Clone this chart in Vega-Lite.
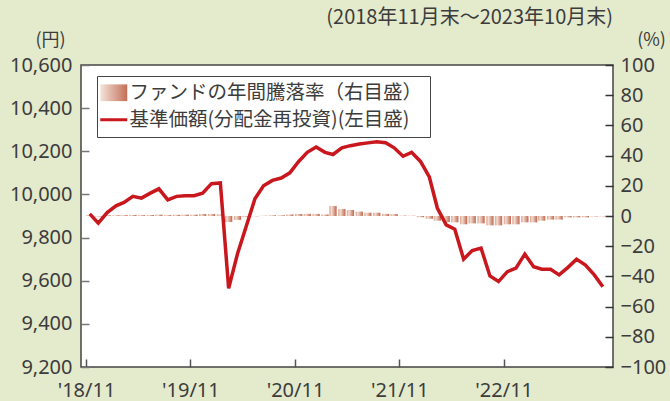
{
  "$schema": "https://vega.github.io/schema/vega-lite/v6.json",
  "width": 532,
  "height": 302,
  "autosize": "none",
  "padding": {"left": 81, "top": 65, "right": 57, "bottom": 34},
  "background": "#e4eacc",
  "title": {
    "text": "(2018年11月末～2023年10月末)",
    "anchor": "end",
    "frame": "group",
    "font": "Noto Sans CJK JP",
    "fontSize": 20,
    "fontWeight": "normal",
    "color": "#3c3c3c",
    "offset": 3
  },
  "data": {
    "values": [
      {"date": "2018/11/14", "nav": 9910, "ret": 0.6},
      {"date": "2018/12/14", "nav": 9867, "ret": -0.4},
      {"date": "2019/01/14", "nav": 9916, "ret": 0.5},
      {"date": "2019/02/14", "nav": 9947, "ret": 0.5},
      {"date": "2019/03/14", "nav": 9963, "ret": 0.6},
      {"date": "2019/04/14", "nav": 9991, "ret": 0.7},
      {"date": "2019/05/14", "nav": 9983, "ret": 0.6},
      {"date": "2019/06/14", "nav": 10006, "ret": 0.7},
      {"date": "2019/07/14", "nav": 10026, "ret": 0.9},
      {"date": "2019/08/14", "nav": 9975, "ret": 0.6},
      {"date": "2019/09/14", "nav": 9991, "ret": 0.8},
      {"date": "2019/10/14", "nav": 9994, "ret": 0.9},
      {"date": "2019/11/14", "nav": 9994, "ret": 0.9},
      {"date": "2019/12/14", "nav": 10006, "ret": 1.3},
      {"date": "2020/01/14", "nav": 10050, "ret": 1.3},
      {"date": "2020/02/14", "nav": 10053, "ret": 1.2},
      {"date": "2020/03/14", "nav": 9565, "ret": -4.0},
      {"date": "2020/04/14", "nav": 9725, "ret": -2.6},
      {"date": "2020/05/14", "nav": 9850, "ret": -0.8},
      {"date": "2020/06/14", "nav": 9980, "ret": -0.2},
      {"date": "2020/07/14", "nav": 10040, "ret": 0.2},
      {"date": "2020/08/14", "nav": 10065, "ret": 0.5},
      {"date": "2020/09/14", "nav": 10076, "ret": 0.5},
      {"date": "2020/10/14", "nav": 10100, "ret": 1.0},
      {"date": "2020/11/14", "nav": 10153, "ret": 1.3},
      {"date": "2020/12/14", "nav": 10195, "ret": 1.4},
      {"date": "2021/01/14", "nav": 10220, "ret": 1.4},
      {"date": "2021/02/14", "nav": 10195, "ret": 1.0},
      {"date": "2021/03/14", "nav": 10185, "ret": 6.6},
      {"date": "2021/04/14", "nav": 10216, "ret": 4.6},
      {"date": "2021/05/14", "nav": 10226, "ret": 4.0},
      {"date": "2021/06/14", "nav": 10234, "ret": 2.9},
      {"date": "2021/07/14", "nav": 10239, "ret": 2.2},
      {"date": "2021/08/14", "nav": 10244, "ret": 2.2},
      {"date": "2021/09/14", "nav": 10240, "ret": 1.4},
      {"date": "2021/10/14", "nav": 10216, "ret": 1.3},
      {"date": "2021/11/14", "nav": 10177, "ret": 0.3},
      {"date": "2021/12/14", "nav": 10195, "ret": 0.2},
      {"date": "2022/01/14", "nav": 10153, "ret": -0.8},
      {"date": "2022/02/14", "nav": 10081, "ret": -1.8},
      {"date": "2022/03/14", "nav": 9937, "ret": -3.1},
      {"date": "2022/04/14", "nav": 9859, "ret": -4.0},
      {"date": "2022/05/14", "nav": 9839, "ret": -4.2},
      {"date": "2022/06/14", "nav": 9700, "ret": -5.5},
      {"date": "2022/07/14", "nav": 9740, "ret": -4.9},
      {"date": "2022/08/14", "nav": 9751, "ret": -4.9},
      {"date": "2022/09/14", "nav": 9622, "ret": -6.2},
      {"date": "2022/10/14", "nav": 9596, "ret": -6.2},
      {"date": "2022/11/14", "nav": 9642, "ret": -5.5},
      {"date": "2022/12/14", "nav": 9658, "ret": -5.5},
      {"date": "2023/01/14", "nav": 9723, "ret": -4.2},
      {"date": "2023/02/14", "nav": 9665, "ret": -4.2},
      {"date": "2023/03/14", "nav": 9653, "ret": -3.1},
      {"date": "2023/04/14", "nav": 9653, "ret": -2.4},
      {"date": "2023/05/14", "nav": 9627, "ret": -2.4},
      {"date": "2023/06/14", "nav": 9662, "ret": -0.9},
      {"date": "2023/07/14", "nav": 9700, "ret": -0.9},
      {"date": "2023/08/14", "nav": 9673, "ret": -0.9},
      {"date": "2023/09/14", "nav": 9627, "ret": -0.3},
      {"date": "2023/10/14", "nav": 9572, "ret": -0.3}
    ]
  },
  "layer": [
    {
      "mark": {
        "type": "bar",
        "width": 7.3,
        "fill": {
          "gradient": "linear",
          "x1": 0, "y1": 0, "x2": 1, "y2": 0,
          "stops": [
            {"offset": 0, "color": "#d9a28d"},
            {"offset": 0.3, "color": "#f2ddd2"},
            {"offset": 1, "color": "#c0674e"}
          ]
        }
      },
      "encoding": {
        "x": {
          "field": "date",
          "type": "temporal",
          "scale": {"domain": [{"year": 2018, "month": 11, "date": 1}, {"year": 2023, "month": 11, "date": 1}]},
          "axis": {
            "title": null,
            "values": [
              {"year": 2018, "month": 11, "date": 1},
              {"year": 2019, "month": 11, "date": 1},
              {"year": 2020, "month": 11, "date": 1},
              {"year": 2021, "month": 11, "date": 1},
              {"year": 2022, "month": 11, "date": 1}
            ],
            "format": "'%y/%m",
            "labelFlush": false,
            "labelPadding": 21,
            "tickColor": "#555"
          }
        },
        "y": {
          "field": "ret",
          "type": "quantitative",
          "scale": {"domain": [-100, 100], "nice": false},
          "axis": {
            "orient": "right",
            "values": [-100, -80, -60, -40, -20, 0, 20, 40, 60, 80, 100],
            "format": "d",
            "title": "(%)",
            "titleAngle": 0,
            "titleX": 38,
            "titleY": -25,
            "titleAlign": "center",
            "titleBaseline": "middle",
            "labelPadding": 15,
            "tickColor": "#333"
          }
        }
      }
    },
    {
      "mark": {"type": "line", "strokeWidth": 3.5},
      "encoding": {
        "x": {"field": "date", "type": "temporal"},
        "y": {
          "field": "nav",
          "type": "quantitative",
          "scale": {"domain": [9200, 10600], "nice": false, "zero": false},
          "axis": {
            "orient": "left",
            "values": [9200, 9400, 9600, 9800, 10000, 10200, 10400, 10600],
            "format": ",.0f",
            "title": "(円)",
            "titleAngle": 0,
            "titleX": -31,
            "titleY": -25,
            "titleAlign": "center",
            "titleBaseline": "middle",
            "labelPadding": 17,
            "tickColor": "#777"
          }
        },
        "stroke": {
          "datum": "基準価額(分配金再投資)(左目盛)",
          "type": "nominal",
          "scale": {
            "domain": ["ファンドの年間騰落率（右目盛）", "基準価額(分配金再投資)(左目盛)"],
            "range": ["#c9826b", "#c9171e"]
          },
          "legend": {
            "orient": "none",
            "legendX": 16,
            "legendY": 11,
            "title": null,
            "strokeColor": "#444",
            "fillColor": "white",
            "padding": 7,
            "labelFont": "Noto Sans CJK JP",
            "labelFontSize": 19.5,
            "labelColor": "#3c3c3c",
            "labelLimit": 500,
            "labelOffset": 6,
            "symbolSize": 729,
            "symbolType": "stroke",
            "symbolStrokeWidth": 3,
            "rowPadding": 6,
            "encoding": {
              "symbols": {
                "shape": {"value": {"expr": "datum.index === 0 ? 'M-1,-0.62H1V0.62H-1Z' : 'stroke'"}},
                "fill": {"value": {"expr": "datum.index === 0 ? {gradient: 'linear', x1: 0, y1: 0, x2: 1, y2: 0, stops: [{offset: 0, color: '#f3e4da'}, {offset: 1, color: '#c46f56'}]} : 'transparent'"}},
                "strokeWidth": {"value": {"expr": "datum.index === 0 ? 0 : 3"}}
              }
            }
          }
        }
      }
    }
  ],
  "resolve": {"scale": {"y": "independent"}},
  "config": {
    "font": "Noto Sans CJK JP",
    "view": {"stroke": "#444", "strokeWidth": 1.5, "fill": "white"},
    "axis": {
      "labelFont": "Noto Sans",
      "labelFontSize": 20,
      "labelColor": "#3c3c3c",
      "titleFont": "Noto Sans CJK JP",
      "titleFontSize": 18,
      "titleFontWeight": "normal",
      "titleColor": "#3c3c3c",
      "domain": false,
      "grid": false,
      "tickSize": -8,
      "tickWidth": 1.5
    }
  }
}
